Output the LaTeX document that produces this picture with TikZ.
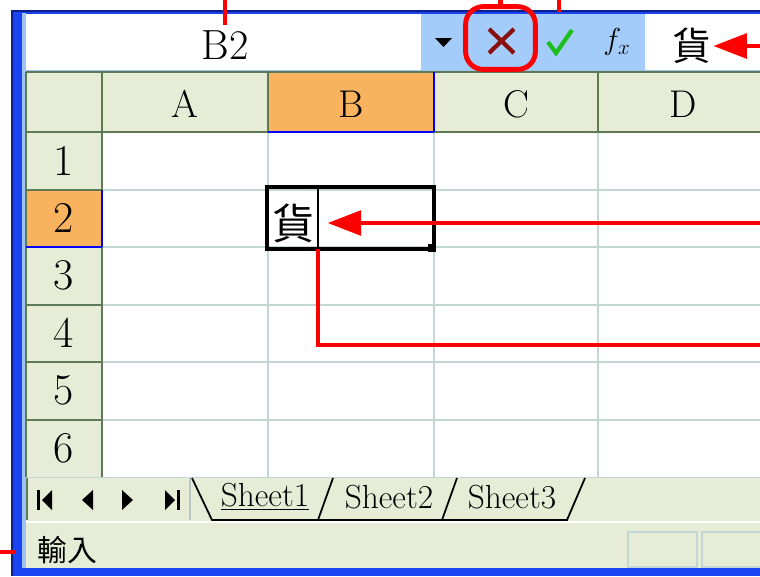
\documentclass[tikz,border=0pt]{standalone}
\usepackage{fontspec}
\newfontfamily\cjk{Noto Sans CJK TC}
\usetikzlibrary{arrows.meta}

\definecolor{winblue}{HTML}{1A44F2}
\definecolor{winnavy}{HTML}{0A1E8C}
\definecolor{winlight}{HTML}{9EC4F8}
\definecolor{barblue}{HTML}{A3CCFA}
\definecolor{hdrbg}{HTML}{E7ECD7}
\definecolor{hdrline}{HTML}{5E7A55}
\definecolor{gridc}{HTML}{C3D6D6}
\definecolor{selorange}{HTML}{F9B35E}
\definecolor{okgreen}{HTML}{1DBE1D}
\definecolor{xred}{HTML}{8A1010}

\begin{document}
\begin{tikzpicture}[x=0.02cm, y=-0.02cm,
		hdrtext/.style={font=\fontsize{22}{22}\selectfont},
		rowtext/.style={font=\fontsize{25}{25}\selectfont},
		tabtext/.style={font=\fontsize{19}{19}\selectfont},
		hline/.style={draw=hdrline, line width=1.3pt},
		gline/.style={draw=gridc, line width=0.9pt},
		selline/.style={draw=blue, line width=1.3pt},
		callout/.style={draw=red, line width=2.3pt},
		callarrow/.style={callout, -{Triangle[length=19pt,width=14pt]}}]
	\useasboundingbox (0,0) rectangle (760,576);
	
	% window frame
	\fill[white] (0,0) rectangle (760,576);
	\fill[winnavy] (11,10) rectangle (760,576);
	\fill[winblue] (13,12) rectangle (760,576);
	\fill[winlight] (22,13) rectangle (26,568);
	
	% formula bar
	\fill[white] (26,14) rectangle (760,70);
	\fill[barblue] (421,14) rectangle (645,70);
	\draw[winlight, line width=1pt] (26,70.5) -- (760,70.5);
	
	% headers and cells
	\fill[hdrbg] (26,72) rectangle (760,132);
	\fill[hdrbg] (26,132) rectangle (102,477);
	\fill[selorange] (268,72) rectangle (434,132);
	\fill[selorange] (26,190) rectangle (102,247);
	\fill[white] (102,132) rectangle (760,477);
	
	\foreach \x in {268,434,598} \draw[gline] (\x,132) -- (\x,477);
	\foreach \y in {190,247,305,362,420} \draw[gline] (102,\y) -- (760,\y);
	
	\draw[hline] (26,72) -- (760,72);
	\draw[hline] (26,132) -- (760,132);
	\draw[hline] (26,72) -- (26,477);
	\foreach \x in {102,268,434,598} \draw[hline] (\x,72) -- (\x,132);
	\draw[hline] (102,132) -- (102,477);
	\foreach \y in {190,247,305,362,420} \draw[hline] (26,\y) -- (102,\y);
	\draw[selline] (268,132) -- (434,132) (434,72) -- (434,132);
	\draw[selline] (26,247) -- (102,247) (102,190) -- (102,247);
	
	\foreach \c/\x in {A/185,B/351,C/516,D/683} \node[hdrtext] (col\c) at (\x,104) {\c};
	\foreach \r in {1,...,6} \node[rowtext] (row\r) at (64,{132+57.5*(\r-0.5)}) {\r};
	
	% sheet tabs and status bar
	\fill[hdrbg] (26,477) rectangle (760,521);
	\draw[gline] (26,477.5) -- (760,477.5);
	\fill[white] (26,521) rectangle (760,523);
	\fill[hdrbg] (26,523) rectangle (760,568);
	\draw[hdrline, line width=1pt] (27,478) -- (27,520);
	\draw[gridc!80!gray, line width=1pt] (190,478) -- (190,520);
	
	\fill (37,490) rectangle (40,510);
	\fill (52,490) -- (42,500) -- (52,510) -- cycle;
	\fill (93,490) -- (82,500) -- (93,510) -- cycle;
	\fill (122,490) -- (133,500) -- (122,510) -- cycle;
	\fill (165,490) -- (175,500) -- (165,510) -- cycle;
	\fill (177,490) rectangle (180,510);
	
	\draw[line width=1pt] (192,478) -- (212,520) -- (567,520) -- (585,478);
	\draw[line width=1pt] (333,478) -- (318,520);
	\draw[line width=1pt] (457,478) -- (442,520);
	\node[tabtext] (sheet1) at (265,497) {\underline{Sheet1}};
	\node[tabtext] (sheet2) at (389,497) {Sheet2};
	\node[tabtext] (sheet3) at (512,497) {Sheet3};
	
	\draw[gridc, line width=1pt] (628,532) rectangle (697,567);
	\draw[gridc, line width=1pt] (702,532) rectangle (770,567);
	\node[font=\cjk\fontsize{17}{17}\selectfont] (mode) at (67,550) {輸入};
	
	% formula bar content
	\node[font=\fontsize{24}{24}\selectfont, inner sep=3pt] (namebox) at (225,45) {B2};
	\fill (435,38) -- (452,38) -- (443.5,47) -- cycle;
	\node[draw=red, line width=2.8pt, rounded corners=10pt, minimum width=39.7pt, minimum height=35.7pt] (cancel) at (500.5,38) {};
	\draw[xred, line width=2.4pt] (489,29) -- (514,53) (514,29) -- (489,53);
	\node[inner sep=0, minimum width=16pt, minimum height=33pt] (okmark) at (559,41) {};
	\draw[okgreen, line width=2.4pt] (548,42) -- (556,53) -- (572,30);
	\node[font=\fontsize{17}{17}\selectfont] (fxmark) at (617,42) {$f_x$};
	\node[font=\cjk\fontsize{22}{22}\selectfont, inner sep=1pt] (barchar) at (692,46) {貨};
	
	% active cell
	\node[font=\cjk\fontsize{24}{24}\selectfont, inner sep=1pt] (cellchar) at (294,223) {貨};
	\draw[line width=2.3pt] (267,187) rectangle (434,249);
	\draw[line width=1.7pt] (318,188) -- (318,248);
	\fill (428,244) rectangle (436,252);
	
	% callouts
	\coordinate (toppin) at (0,0);
	\coordinate (barpin) at (760,46);
	\coordinate (cellpin) at (760,223);
	\coordinate (cursorfoot) at (318,249);
	\coordinate (routepin) at (760,345);
	\coordinate (leftpin) at (0,552);
	\coordinate (framepin) at (15,552);
	\draw[callout] (namebox.north |- toppin) -- (namebox);
	\draw[callout] (cancel.north |- toppin) -- (cancel);
	\draw[callout] (okmark.north |- toppin) -- (okmark.north);
	\draw[callarrow] (barpin) -- (barchar);
	\draw[callarrow, shorten >=6pt] (cellpin) -- (cellchar);
	\draw[callout] (cursorfoot) |- (routepin);
	\draw[callout] (leftpin) -- (framepin);
\end{tikzpicture}
\end{document}
